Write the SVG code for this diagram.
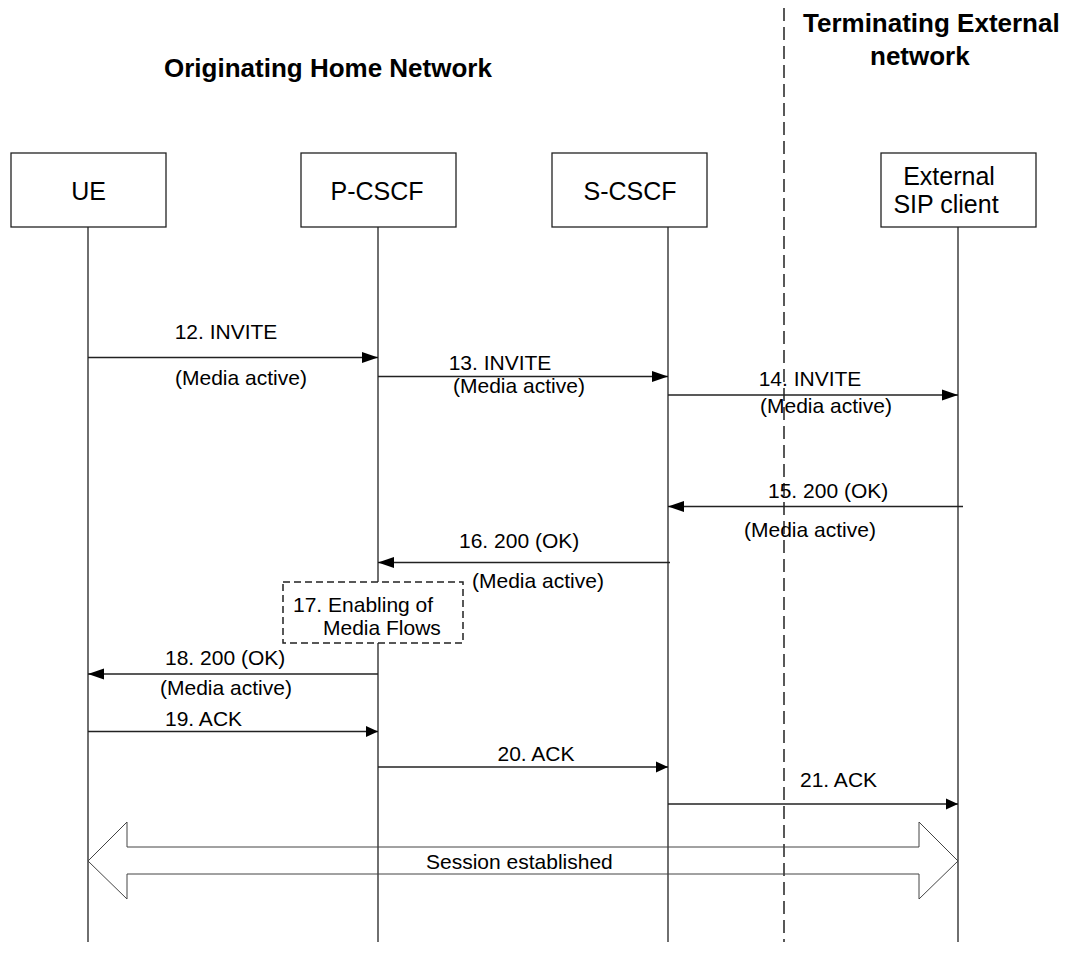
<svg xmlns="http://www.w3.org/2000/svg" width="1066" height="970" viewBox="0 0 1066 970">
<defs>
<marker id="ah" markerUnits="userSpaceOnUse" markerWidth="17" markerHeight="12" refX="16" refY="6" orient="auto"><path d="M0,0.5 L16,6 L0,11.5 z" fill="#000"/></marker>
<marker id="ahs" markerUnits="userSpaceOnUse" markerWidth="13" markerHeight="12" refX="12" refY="6" orient="auto"><path d="M0,0.5 L12,6 L0,11.5 z" fill="#000"/></marker>
</defs>
<style>
text{font-family:"Liberation Sans",Arial,sans-serif;fill:#000}
.h{font-size:26px;font-weight:bold}
.lbl{font-size:25px}
.m{font-size:21px}
.box{fill:#fff;stroke:#222;stroke-width:1.3}
.life{stroke:#222;stroke-width:1.3}
.msg{stroke:#222;stroke-width:1.3;fill:none}
</style>
<rect width="1066" height="970" fill="#fff"/>
<g id="headings">
<text class="h" x="164" y="77">Originating Home Network</text>
<text class="h" x="803" y="32">Terminating External</text>
<text class="h" x="870" y="65">network</text>
</g>
<line id="boundary" x1="784" y1="8" x2="784" y2="942" stroke="#222" stroke-width="1.5" stroke-dasharray="13,6"/>
<g id="lifelines">
<line class="life" x1="88" y1="227" x2="88" y2="942"/>
<line class="life" x1="378" y1="227" x2="378" y2="942"/>
<line class="life" x1="668" y1="227" x2="668" y2="942"/>
<line class="life" x1="958" y1="227" x2="958" y2="942"/>
</g>
<g id="UE"><rect class="box" x="11" y="153" width="155" height="74"/><text class="lbl" x="88.5" y="200" text-anchor="middle">UE</text></g>
<g id="P-CSCF"><rect class="box" x="301" y="153" width="155" height="74"/><text class="lbl" x="377" y="200" text-anchor="middle">P-CSCF</text></g>
<g id="S-CSCF"><rect class="box" x="552" y="153" width="155" height="74"/><text class="lbl" x="630" y="200" text-anchor="middle">S-CSCF</text></g>
<g id="External"><rect class="box" x="881" y="153" width="155" height="74"/><text class="lbl" x="949" y="185" text-anchor="middle">External</text><text class="lbl" x="946" y="213" text-anchor="middle">SIP client</text></g>
<g id="connectors">
<line class="msg" x1="88" y1="357.5" x2="378" y2="357.5" marker-end="url(#ah)"/>
<line class="msg" x1="378" y1="376.5" x2="668" y2="376.5" marker-end="url(#ah)"/>
<line class="msg" x1="668" y1="395" x2="958" y2="395" marker-end="url(#ah)"/>
<line class="msg" x1="963" y1="506.5" x2="668" y2="506.5" marker-end="url(#ah)"/>
<line class="msg" x1="670" y1="562.5" x2="378" y2="562.5" marker-end="url(#ah)"/>
<line class="msg" x1="378" y1="674" x2="88" y2="674" marker-end="url(#ah)"/>
<line class="msg" x1="88" y1="731.5" x2="378" y2="731.5" marker-end="url(#ahs)"/>
<line class="msg" x1="378" y1="767" x2="668" y2="767" marker-end="url(#ahs)"/>
<line class="msg" x1="668" y1="804" x2="958" y2="804" marker-end="url(#ahs)"/>
<polygon points="88,861 127,822 127,847 919,847 919,822 958,861 919,899 919,874 127,874 127,899" fill="none" stroke="#444" stroke-width="1"/>
</g>
<g id="labels">
<text class="m" x="226" y="339" text-anchor="middle">12. INVITE</text>
<text class="m" x="175" y="385">(Media active)</text>
<text class="m" x="500" y="370" text-anchor="middle">13. INVITE</text>
<text class="m" x="453" y="393">(Media active)</text>
<text class="m" x="810" y="386" text-anchor="middle">14. INVITE</text>
<text class="m" x="760" y="413">(Media active)</text>
<text class="m" x="768" y="498">15. 200 (OK)</text>
<text class="m" x="744" y="537">(Media active)</text>
<text class="m" x="459" y="548">16. 200 (OK)</text>
<text class="m" x="472" y="588">(Media active)</text>
<text class="m" x="165" y="665">18. 200 (OK)</text>
<text class="m" x="160" y="695">(Media active)</text>
<text class="m" x="165" y="726">19. ACK</text>
<text class="m" x="536" y="761" text-anchor="middle">20. ACK</text>
<text class="m" x="800" y="787">21. ACK</text>
<text class="m" x="426" y="869">Session established</text>
</g>
<g id="step17">
<rect x="283" y="582" width="180" height="61" fill="#fff" stroke="#222" stroke-width="1.5" stroke-dasharray="7,4"/>
<text class="m" x="293" y="612">17. Enabling of</text>
<text class="m" x="323" y="635">Media Flows</text>
</g>
</svg>
